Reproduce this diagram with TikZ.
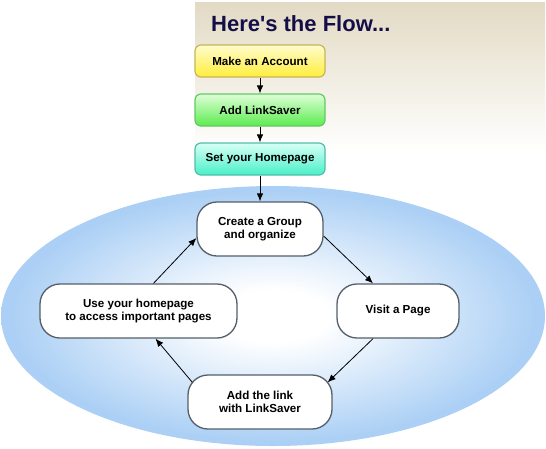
\documentclass[tikz,border=0pt]{standalone}
\usepackage{fontspec}
\setmainfont{Liberation Sans}
\usetikzlibrary{arrows.meta, calc}
\definecolor{flowtitle}{RGB}{20,14,72}
\definecolor{bgtan}{RGB}{226,218,196}
\definecolor{ellblue}{RGB}{172,208,245}
\definecolor{pillline}{RGB}{85,95,105}
\pgfdeclareradialshading{loopglow}{\pgfpoint{0bp}{0bp}}{color(0bp)=(white); color(5bp)=(white); color(24bp)=(ellblue); color(50bp)=(ellblue)}

\begin{document}
\begin{tikzpicture}[x=1pt, y=-1pt,
    stepbox/.style={rectangle, rounded corners=6pt, line width=1.2pt, inner sep=0pt,
      minimum width=130pt, minimum height=32pt, font=\fontsize{11.6}{13}\selectfont\bfseries},
    pill/.style={rectangle, rounded corners=20pt, draw=pillline, fill=white, line width=1.3pt,
      inner sep=0pt, minimum height=54pt, align=center, font=\fontsize{11.6}{13}\selectfont\bfseries},
    flowarrow/.style={draw=black, line width=0.8pt, -{Latex[length=8pt,width=6.5pt]}}]
    \useasboundingbox (0,0) rectangle (546,448);

    \shade[top color=bgtan, bottom color=white] (195,2) rectangle (545,152);
    \shade[shading=loopglow] (273,316) ellipse [x radius=272, y radius=130];

    \node[anchor=base west, inner sep=0pt, text=flowtitle, font=\fontsize{22}{26}\selectfont\bfseries] (title) at (211,31) {Here\textquotesingle s the Flow...};

    \node[stepbox, draw={rgb,255:red,200;green,180;blue,90}, top color={rgb,255:red,255;green,252;blue,205}, bottom color={rgb,255:red,255;green,238;blue,60}] (account) at (260,61) {Make an Account};
    \node[stepbox, draw={rgb,255:red,100;green,200;blue,100}, top color={rgb,255:red,222;green,255;blue,215}, bottom color={rgb,255:red,92;green,235;blue,80}] (linksaver) at (260,110) {Add LinkSaver};
    \node[stepbox, draw={rgb,255:red,80;green,190;blue,170}, top color={rgb,255:red,215;green,255;blue,245}, bottom color={rgb,255:red,72;green,240;blue,200}] (homepage) at (260,159) {Set your Homepage};

    \node[pill, minimum width=126pt] (group) at (260,229) {Create a Group\\and organize};
    \node[pill, minimum width=122pt] (visit) at (398,311) {Visit a Page};
    \node[pill, minimum width=144pt] (addlink) at (260,402) {Add the link\\with LinkSaver};
    \node[pill, minimum width=197pt] (usehome) at (138.5,311) {Use your homepage\\to access important pages};

    \draw[flowarrow] (account) -- (linksaver);
    \draw[flowarrow] (linksaver) -- (homepage);
    \draw[flowarrow] (homepage) -- (group);
    \draw[flowarrow] ($(group.east)+(0,7)$) -- ($(visit.north)+(-25,0)$);
    \draw[flowarrow] ($(visit.south)+(-25,0)$) -- ($(addlink.north east)+(-5,8)$);
    \draw[flowarrow] ($(addlink.north west)+(5,8)$) -- ($(usehome.south)+(17,0)$);
    \draw[flowarrow] ($(usehome.north)+(15,0)$) -- ($(group.west)+(0,9)$);
\end{tikzpicture}
\end{document}
